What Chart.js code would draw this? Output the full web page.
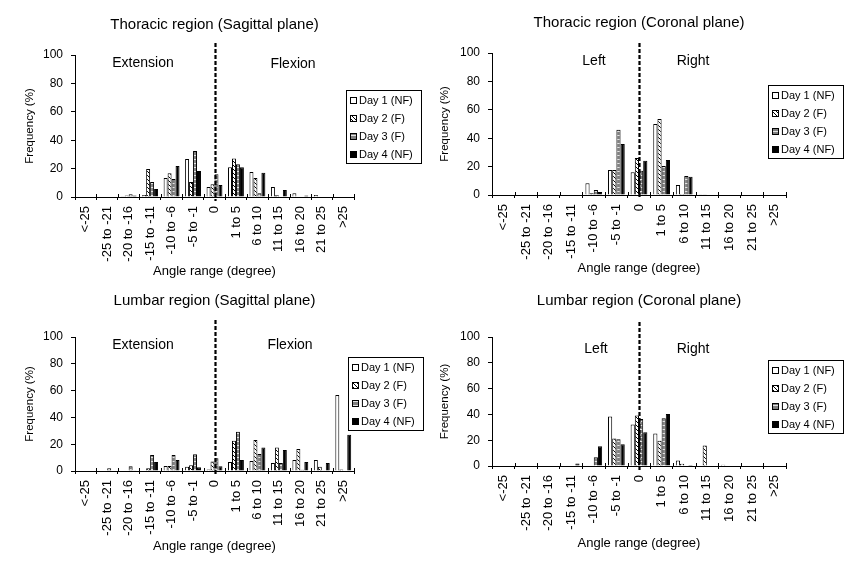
<!DOCTYPE html>
<html>
<head>
<meta charset="utf-8">
<script src="https://cdn.jsdelivr.net/npm/chart.js@4.4.0/dist/chart.umd.min.js"></script>
<style>
body { margin: 0; background: #fff; width: 847px; height: 561px; position: relative; overflow: hidden; }
canvas { position: absolute; }
</style>
</head>
<body>
<canvas id="c1" width="430" height="285" style="left:0;top:0"></canvas>
<canvas id="c2" width="430" height="285" style="left:417px;top:0"></canvas>
<canvas id="c3" width="430" height="279" style="left:0;top:282px"></canvas>
<canvas id="c4" width="430" height="279" style="left:417px;top:282px"></canvas>
<script>
// angle range categories
const categories = ['<-25', '-25 to -21', '-20 to -16', '-15 to -11', '-10 to -6', '-5 to -1', '0',
                    '1 to 5', '6 to 10', '11 to 15', '16 to 20', '21 to 25', '>25'];
const seriesNames = ['Day 1 (NF)', 'Day 2 (F)', 'Day 3 (F)', 'Day 4 (NF)'];
const yTicks = [0, 20, 40, 60, 80, 100];

// thoracic region, sagittal plane
const thorSag1 = [0, 0, 0.5, 1.4, 13.4, 26.8, 7, 21, 17.6, 7, 2.6, 1.4, 0];
const thorSag2 = [0, 0, 1, 19.7, 16.7, 10.6, 8.9, 27.2, 13.4, 1.2, 0, 0, 0];
const thorSag3 = [0, 0, 2, 10.6, 12.7, 32.4, 16, 23, 2.6, 0, 0, 0, 0];
const thorSag4 = [0, 0, 1, 5.6, 21.8, 18.3, 8.5, 21, 17, 4.9, 1, 0, 0];

// thoracic region, coronal plane
const thorCor1 = [0, 0, 0, 0, 8.2, 17.6, 16, 50, 7, 0.5, 0, 0, 0];
const thorCor2 = [0, 0, 0, 0, 1.2, 17.6, 26.1, 53.6, 0.7, 0.5, 0, 0, 0];
const thorCor3 = [0, 0, 0, 0, 3.5, 45.9, 17, 20.5, 13.4, 0, 0, 0, 0];
const thorCor4 = [0, 0, 0, 0, 2.1, 36, 24.2, 24.7, 12.9, 0, 0, 0, 0];

// lumbar region, sagittal plane
const lumbSag1 = [0, 0, 0, 0, 3.7, 3.2, 1.2, 6.7, 7.5, 6, 8.2, 8.2, 56.7];
const lumbSag2 = [0, 0, 0, 2, 3.7, 4.2, 7, 22.5, 23.2, 17.5, 16.5, 3.2, 1.2];
const lumbSag3 = [0, 2, 3.5, 12, 12, 12.5, 9.5, 29.2, 12.7, 6, 1, 0.5, 0];
const lumbSag4 = [0, 0, 0.6, 6.7, 8.2, 2.8, 3.5, 8.2, 17.5, 15.7, 6.7, 6, 27];

// lumbar region, coronal plane
const lumbCor1 = [0, 0, 0, 0, 0, 38.4, 32.2, 25.2, 4.2, 0, 1, 0, 0];
const lumbCor2 = [0, 0, 0, 0, 0, 21.3, 39.2, 19.5, 1.8, 15.8, 0, 0, 0];
const lumbCor3 = [0, 0, 0, 0, 6.7, 20.8, 36.4, 37.1, 0, 0, 0, 0, 0];
const lumbCor4 = [0, 0, 0, 2, 15.3, 16.9, 26.2, 40.3, 0.8, 0, 0, 0, 0];

Chart.defaults.font.family = '"Liberation Sans", Arial, sans-serif';
Chart.defaults.color = '#000';

function makeFills(ctx) {
    let c = document.createElement('canvas');
    c.width = 4; c.height = 4;
    let g = c.getContext('2d');
    g.fillStyle = '#fff'; g.fillRect(0, 0, 4, 4);
    g.fillStyle = '#000';
    for (let i = 0; i < 4; i++) g.fillRect(i, i, 1, 1);
    let hatch = ctx.createPattern(c, 'repeat');

    let c2 = document.createElement('canvas');
    c2.width = 4; c2.height = 4;
    let g2 = c2.getContext('2d');
    g2.fillStyle = '#808080'; g2.fillRect(0, 0, 4, 4);
    g2.fillStyle = '#e4e4e4'; g2.fillRect(0, 3, 4, 1);
    let grey = ctx.createPattern(c2, 'repeat');

    return ['#fff', hatch, grey, '#000'];
}

// dashed zero line, side labels and the boxed legend
const decor = {
    id: 'decor',
    afterDatasetsDraw(chart, args, opts) {
        let ctx = chart.ctx;
        let xs = chart.scales.x, ca = chart.chartArea;
        ctx.save();
        let x0 = Math.round(xs.getPixelForValue(6)) + 0.5;
        ctx.strokeStyle = '#000';
        ctx.lineWidth = 2.2;
        ctx.setLineDash([4, 2]);
        ctx.beginPath();
        ctx.moveTo(x0, opts.dashTop);
        ctx.lineTo(x0, ca.bottom + 4);
        ctx.stroke();
        ctx.setLineDash([]);

        // small inside ticks between categories
        ctx.lineWidth = 1;
        for (let i = 0; i <= categories.length; i++) {
            let tx = Math.round(ca.left + (ca.right - ca.left) * i / categories.length) + 0.5;
            ctx.beginPath();
            ctx.moveTo(tx, ca.bottom - 3);
            ctx.lineTo(tx, ca.bottom);
            ctx.stroke();
        }

        ctx.font = '14px "Liberation Sans", Arial, sans-serif';
        ctx.fillStyle = '#000';
        ctx.textAlign = 'center';
        ctx.textBaseline = 'middle';
        opts.texts.forEach(t => ctx.fillText(t[0], t[1], t[2]));

        let lx = opts.legend[0], ly = opts.legend[1];
        ctx.fillStyle = '#fff';
        ctx.fillRect(lx, ly, 75, 73);
        ctx.strokeRect(lx + 0.5, ly + 0.5, 75, 73);
        ctx.font = '11px "Liberation Sans", Arial, sans-serif';
        ctx.textAlign = 'left';
        chart.data.datasets.forEach((ds, i) => {
            let ry = ly + 10 + i * 18;
            ctx.fillStyle = ds.backgroundColor;
            ctx.fillRect(lx + 4, ry - 3, 7, 7);
            ctx.strokeRect(lx + 4.5, ry - 2.5, 6, 6);
            ctx.fillStyle = '#000';
            ctx.fillText(ds.label, lx + 13, ry + 1);
        });
        ctx.restore();
    }
};

function drawPanel(id, title, values, cfg) {
    let ctx = document.getElementById(id).getContext('2d');
    let fills = makeFills(ctx);
    return new Chart(ctx, {
        type: 'bar',
        data: {
            labels: categories,
            datasets: values.map((v, i) => ({
                label: seriesNames[i],
                data: v,
                backgroundColor: fills[i],
                borderColor: '#000',
                borderWidth: 1,
                categoryPercentage: 0.74,
                barPercentage: 1.0
            }))
        },
        options: {
            responsive: false,
            animation: false,
            layout: { padding: { left: 0, right: cfg.padRight, top: 0, bottom: 0 } },
            plugins: {
                legend: { display: false },
                tooltip: { enabled: false },
                title: {
                    display: true,
                    text: title,
                    fullSize: false,
                    font: { size: 15, weight: 'normal' },
                    padding: { top: cfg.titlePad[0], bottom: cfg.titlePad[1] }
                },
                decor: cfg.decor
            },
            scales: {
                x: {
                    afterFit(s) { s.height = cfg.xHeight; },
                    grid: { drawOnChartArea: false, color: '#000', tickLength: 3, offset: true },
                    border: { color: '#000' },
                    ticks: { minRotation: 90, maxRotation: 90, autoSkip: false, padding: 6, font: { size: 13 } },
                    title: { display: true, text: 'Angle range (degree)', font: { size: 13 },
                             padding: { top: 0, bottom: cfg.xTitlePad } }
                },
                y: {
                    min: 0, max: 100,
                    afterFit(s) { s.width = 75; },
                    afterBuildTicks(s) { s.ticks = yTicks.map(v => ({ value: v })); },
                    grid: { drawOnChartArea: false, color: '#000', tickLength: 4 },
                    border: { color: '#000' },
                    ticks: { padding: 8, font: { size: 12 } },
                    title: { display: true, text: 'Frequency (%)', font: { size: 11.5 },
                             padding: { top: cfg.yTitlePad, bottom: 0 } }
                }
            }
        },
        plugins: [decor]
    });
}

drawPanel('c1', 'Thoracic region (Sagittal plane)', [thorSag1, thorSag2, thorSag3, thorSag4], {
    padRight: 76, titlePad: [16, 21], xHeight: 88, xTitlePad: 6, yTitlePad: 23,
    decor: { dashTop: 43, texts: [['Extension', 143, 63], ['Flexion', 293, 64]], legend: [346, 90] }
});
drawPanel('c2', 'Thoracic region (Coronal plane)', [thorCor1, thorCor2, thorCor3, thorCor4], {
    padRight: 61, titlePad: [14, 21], xHeight: 90, xTitlePad: 9, yTitlePad: 21,
    decor: { dashTop: 43, texts: [['Left', 177, 61], ['Right', 276, 61]], legend: [351, 85] }
});
drawPanel('c3', 'Lumbar region (Sagittal plane)', [lumbSag1, lumbSag2, lumbSag3, lumbSag4], {
    padRight: 76, titlePad: [10, 27], xHeight: 90, xTitlePad: 7, yTitlePad: 23,
    decor: { dashTop: 38, texts: [['Extension', 143, 63], ['Flexion', 290, 63]], legend: [348, 75] }
});
drawPanel('c4', 'Lumbar region (Coronal plane)', [lumbCor1, lumbCor2, lumbCor3, lumbCor4], {
    padRight: 61, titlePad: [10, 27], xHeight: 95, xTitlePad: 10, yTitlePad: 21,
    decor: { dashTop: 40, texts: [['Left', 179, 67], ['Right', 276, 67]], legend: [351, 78] }
});
</script>
</body>
</html>
